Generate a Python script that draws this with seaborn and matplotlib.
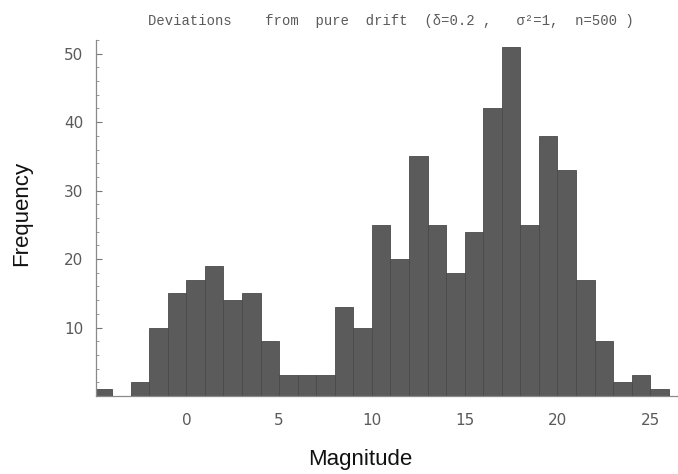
import numpy as np
import matplotlib
matplotlib.use("Agg")
import matplotlib.pyplot as plt
from matplotlib.ticker import MultipleLocator
import seaborn as sns

# Histogram counts per unit-width bin, bins starting at -5 and ending at 26
bin_edges = list(range(-5, 27))
counts = [1, 0, 2, 10, 15, 17, 19, 14, 15, 8,
          3, 3, 3, 13, 10, 25, 20, 35, 25, 18,
          24, 42, 51, 25, 38, 33, 17, 8, 2, 3, 1]
bin_centers = [e + 0.5 for e in bin_edges[:-1]]

x_ticks = [0, 5, 10, 15, 20, 25]
y_ticks = [10, 20, 30, 40, 50]

title_text = "Deviations    from  pure  drift  (δ=0.2 ,   σ²=1,  n=500 )"
x_label = "Magnitude"
y_label = "Frequency"

sns.set_theme(style="white")
plt.rcParams["font.family"] = ["DejaVu Sans"]

fig = plt.figure(figsize=(6.78, 4.74), dpi=100)
ax = fig.add_axes([96 / 678, 78 / 474, 582 / 678, 356 / 474])

sns.histplot(x=bin_centers, weights=counts, bins=bin_edges, ax=ax,
             color="#5b5b5b", edgecolor="#4a4a4a", linewidth=0.6,
             alpha=1.0, stat="count")

ax.set_xlim(-4.87, 26.5)
ax.set_ylim(0, 52)

ax.set_xticks(x_ticks)
ax.set_yticks(y_ticks)
ax.xaxis.set_minor_locator(MultipleLocator(1))
ax.yaxis.set_minor_locator(MultipleLocator(2))
ax.tick_params(axis="both", which="major", direction="in", length=4,
               width=0.8, color="#777777", labelsize=11, labelcolor="#5a5a5a",
               left=True, bottom=True)
ax.tick_params(axis="both", which="minor", direction="in", length=2,
               width=0.6, color="#888888", left=True, bottom=True)
ax.tick_params(axis="y", pad=9)
ax.tick_params(axis="x", pad=12)

for side in ["top", "right"]:
    ax.spines[side].set_visible(False)
for side in ["left", "bottom"]:
    ax.spines[side].set_color("#8a8a8a")
    ax.spines[side].set_linewidth(0.9)

ax.set_xlabel("")
ax.set_ylabel("")
ax.grid(False)

fig.text(391 / 678, 1 - 21 / 474, title_text, ha="center", va="center",
         fontsize=10, color="#5a5a5a", family=["Liberation Mono", "DejaVu Sans Mono"])
fig.text(360 / 678, 1 - 460 / 474, x_label, ha="center", va="center",
         fontsize=16, color="#111111", family=["Liberation Sans"])
fig.text(22 / 678, 1 - 213 / 474, y_label, ha="center", va="center",
         rotation=90, fontsize=16, color="#111111", family=["Liberation Sans"])

fig.savefig("out.png", dpi=100, facecolor="white")
